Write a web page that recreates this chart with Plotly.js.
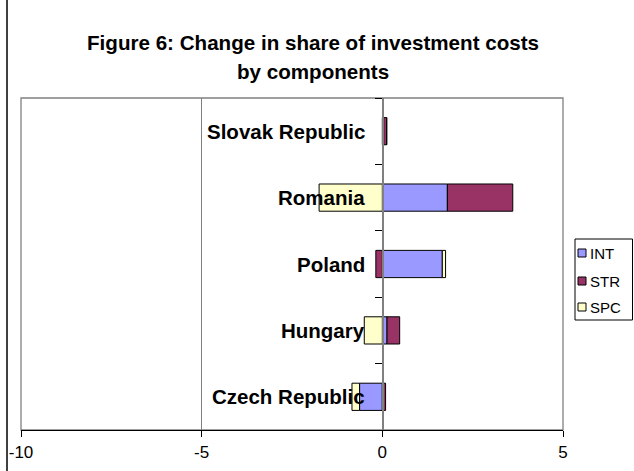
<!DOCTYPE html>
<html>
<head>
<meta charset="utf-8">
<script src="https://cdn.plot.ly/plotly-3.0.1.min.js"></script>
<style>html,body{margin:0;padding:0;background:#fff;}#chart{width:634px;height:471px;}</style>
</head>
<body>
<div id="chart"></div>
<script>
const categories = ["Czech Republic", "Hungary", "Poland", "Romania", "Slovak Republic"];
const seriesNames = ["INT", "STR", "SPC"];
const INT = [-0.63, 0.13, 1.66, 1.80, 0.04];
const STR = [0.09, 0.35, -0.18, 1.81, 0.08];
const SPC = [-0.21, -0.50, 0.09, -1.75, 0.0];
const colors = ["#9999FF", "#993366", "#FFFFCC"];
const xTicks = [-10, -5, 0, 5];

const values = [INT, STR, SPC];
const traces = values.map((v, i) => ({
  type: "bar", orientation: "h", name: seriesNames[i],
  y: categories, x: v,
  marker: {color: colors[i], line: {color: "#000", width: 1}},
  hoverinfo: "x+y+name"
}));

// plot area in pixels
const L = 21, R = 563, T = 98, B = 430, W = 634, H = 471;
const px = X => (X - L) / (R - L);
const py = Y => (B - Y) / (B - T);

const annotations = categories.map(c => ({
  x: 0, y: c, xref: "x", yref: "y", text: "<b>" + c + "</b>",
  showarrow: false, xanchor: "right", yanchor: "middle", xshift: -15,
  font: {family: "Arial, Liberation Sans, sans-serif", size: 20.5, color: "#000"}
}));
annotations.push({
  x: px(313), y: py(43), xref: "paper", yref: "paper", showarrow: false,
  text: "<b>Figure 6: Change in share of investment costs</b>", xanchor: "center", yanchor: "middle",
  font: {family: "Arial, Liberation Sans, sans-serif", size: 20.6, color: "#000"}
});
annotations.push({
  x: px(313), y: py(72), xref: "paper", yref: "paper", showarrow: false,
  text: "<b>by components</b>", xanchor: "center", yanchor: "middle",
  font: {family: "Arial, Liberation Sans, sans-serif", size: 20.6, color: "#000"}
});

const shapes = [
  {type: "rect", xref: "paper", yref: "paper", x0: 0, x1: 1, y0: 0, y1: 1,
   line: {color: "#808080", width: 1.3}, layer: "below"},
  {type: "line", xref: "paper", yref: "paper", x0: px(7), x1: px(7), y0: py(0), y1: py(H),
   line: {color: "#000", width: 1.5}},
  // legend box
  {type: "rect", xref: "paper", yref: "paper", x0: px(575), x1: px(632.5), y0: py(239), y1: py(320),
   line: {color: "#000", width: 1}, fillcolor: "#fff"}
];
const legY = [253, 281, 307];
seriesNames.forEach((n, i) => {
  shapes.push({type: "rect", xref: "paper", yref: "paper",
    x0: px(578), x1: px(586), y0: py(legY[i] - 4), y1: py(legY[i] + 4),
    line: {color: "#000", width: 1}, fillcolor: colors[i]});
  annotations.push({x: px(587.5), y: py(legY[i]), xref: "paper", yref: "paper", showarrow: false,
    text: n, xanchor: "left", yanchor: "middle",
    font: {family: "Arial, Liberation Sans, sans-serif", size: 15, color: "#000"}});
});

const layout = {
  width: W, height: H,
  margin: {l: L, r: W - R, t: T, b: H - B, pad: 0},
  paper_bgcolor: "#fff", plot_bgcolor: "#fff",
  barmode: "relative", bargap: 0.59,
  showlegend: false,
  font: {family: "Arial, Liberation Sans, sans-serif", color: "#000"},
  xaxis: {
    range: [-10, 5], tickvals: xTicks, ticktext: xTicks.map(String),
    showgrid: true, gridcolor: "#808080", gridwidth: 1,
    zeroline: false, showline: true, linecolor: "#000", linewidth: 1.3,
    ticks: "outside", ticklen: 6, tickcolor: "#000", tickwidth: 1,
    tickfont: {size: 17, family: "Arial, Liberation Sans, sans-serif", color: "#000"},
    fixedrange: true
  },
  yaxis: {
    type: "category", categoryorder: "array", categoryarray: categories,
    range: [-0.5, 4.5], anchor: "free", position: 10 / 15, side: "left",
    showline: true, linecolor: "#808080", linewidth: 1.3,
    ticks: "outside", tickson: "boundaries", ticklen: 7, tickcolor: "#000", tickwidth: 1,
    showticklabels: false, showgrid: false, zeroline: false, fixedrange: true
  },
  annotations: annotations,
  shapes: shapes
};

Plotly.newPlot("chart", traces, layout, {displayModeBar: false, staticPlot: true});
</script>
</body>
</html>
